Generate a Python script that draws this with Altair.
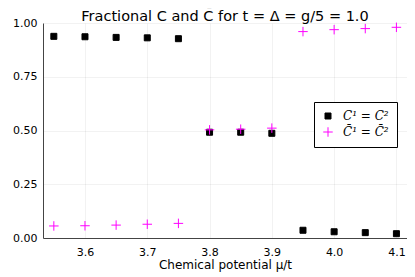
import altair as alt
import pandas as pd

mu = [3.55, 3.60, 3.65, 3.70, 3.75, 3.80, 3.85, 3.90, 3.95, 4.00, 4.05, 4.10]
frac_c = [0.938, 0.936, 0.933, 0.931, 0.927, 0.492, 0.492, 0.487, 0.036, 0.029, 0.025, 0.020]
frac_cbar = [0.056, 0.057, 0.060, 0.064, 0.068, 0.503, 0.506, 0.511, 0.960, 0.969, 0.974, 0.980]
series_names = ["C¹ = C²", "C̄¹ = C̄²"]
x_ticks = [3.6, 3.7, 3.8, 3.9, 4.0, 4.1]
y_ticks = [0.0, 0.25, 0.5, 0.75, 1.0]

rows = []
for m, a, b in zip(mu, frac_c, frac_cbar):
    rows.append({"mu": m, "value": a, "series": series_names[0]})
    rows.append({"mu": m, "value": b, "series": series_names[1]})
df = pd.DataFrame(rows)

plus_path = "M-1,0L1,0M0,-1L0,1"
colors = ["#000000", "#ff00ff"]
fills = ["#000000", "transparent"]

chart = alt.Chart(df).mark_point(filled=False, size=40, strokeWidth=1, opacity=1).encode(
    x=alt.X("mu:Q", scale=alt.Scale(domain=[3.5326, 4.117], nice=False, zero=False),
            axis=alt.Axis(values=x_ticks, format=".1f", title="Chemical potential μ/t",
                          labelPadding=8, titlePadding=2)),
    y=alt.Y("value:Q", scale=alt.Scale(domain=[0, 1], nice=False),
            axis=alt.Axis(values=y_ticks, format=".2f", title=None, labelPadding=6)),
    fill=alt.Fill("series:N", scale=alt.Scale(domain=series_names, range=fills),
                  legend=alt.Legend(title=None)),
    stroke=alt.Stroke("series:N", scale=alt.Scale(domain=series_names, range=colors),
                      legend=alt.Legend(title=None)),
    shape=alt.Shape("series:N", scale=alt.Scale(domain=series_names, range=["square", plus_path]),
                    legend=alt.Legend(title=None)),
    size=alt.Size("series:N", scale=alt.Scale(domain=series_names, range=[36, 90]),
                  legend=alt.Legend(title=None)),
).properties(
    width=364,
    height=215,
    autosize=alt.AutoSizeParams(type="none"),
    padding={"left": 35, "top": 15, "right": 0, "bottom": 38},
    title=alt.Title("Fractional C and C̄ for t = Δ = g/5 = 1.0", fontSize=14.5,
                    fontWeight="normal", font="DejaVu Sans", offset=-7, color="#000000"),
).configure_view(
    stroke=None
).configure_axis(
    labelFont="DejaVu Sans", labelFontSize=11, labelColor="#000000",
    titleFont="DejaVu Sans", titleFontSize=12, titleFontWeight="normal", titleColor="#000000",
    domainColor="#444444", domainWidth=1, ticks=False,
    gridColor="#000000", gridOpacity=0.1, gridWidth=0.5,
).configure_legend(
    orient="none", legendX=271, legendY=79,
    fillColor="white", strokeColor="#000000", strokeWidth=1, padding=8,
    labelFont="DejaVu Serif", labelFontStyle="italic", labelFontSize=12, labelColor="#000000",
    labelOffset=9, rowPadding=3, symbolOpacity=1, symbolStrokeWidth=1,
)

chart.save("out.html", embed_options={"renderer": "svg", "actions": False})
